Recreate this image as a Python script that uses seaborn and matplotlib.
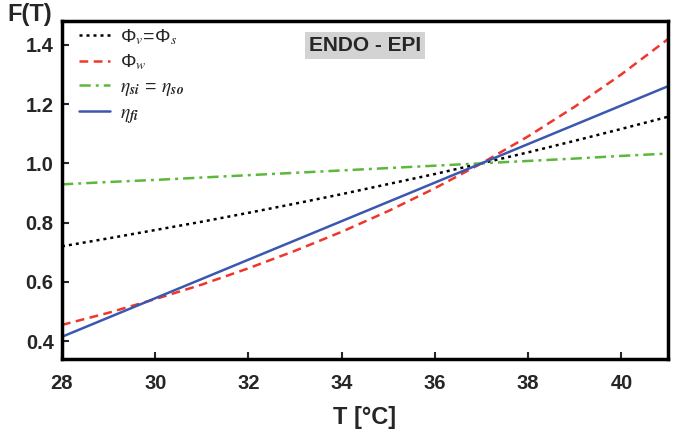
import matplotlib
matplotlib.use("Agg")
import matplotlib.pyplot as plt
import seaborn as sns
import pandas as pd

# Temperature (°C) and the scaling factors F(T) for each parameter group
temperature = [28, 29, 30, 31, 32, 33, 34, 35, 36, 37, 38, 39, 40, 41]
phi_v_s = [0.720, 0.747, 0.775, 0.803, 0.833, 0.864, 0.896, 0.930, 0.964,
           1.000, 1.037, 1.076, 1.116, 1.157]
phi_w = [0.455, 0.496, 0.542, 0.591, 0.646, 0.705, 0.769, 0.839, 0.916,
         1.000, 1.091, 1.191, 1.300, 1.419]
eta_si_so = [0.929, 0.937, 0.944, 0.952, 0.960, 0.968, 0.976, 0.984, 0.992,
             1.000, 1.008, 1.016, 1.025, 1.033]
eta_fi = [0.415, 0.480, 0.545, 0.610, 0.675, 0.740, 0.805, 0.870, 0.935,
          1.000, 1.065, 1.130, 1.195, 1.260]

x_ticks = [28, 30, 32, 34, 36, 38, 40]
y_ticks = [0.4, 0.6, 0.8, 1.0, 1.2, 1.4]

sns.set_style("white")
plt.rcParams["font.family"] = ["Liberation Sans", "DejaVu Sans"]
plt.rcParams["mathtext.fontset"] = "stix"

fig = plt.figure(figsize=(6.84, 4.33), dpi=100)
ax = fig.add_axes([62 / 684, 1 - 359 / 433, (668 - 62) / 684, (359 - 21) / 433])

series = [
    ("Φ$_v$=Φ$_s$", phi_v_s, "black", (0, (1.2, 1.6))),
    ("Φ$_w$", phi_w, "#f0362b", (0, (3.5, 2.2))),
    (r"$\eta_{\mathbfit{si}}$ = $\eta_{\mathbfit{so}}$", eta_si_so, "#5cb83a",
     (0, (4.5, 2, 1.2, 2))),
    (r"$\eta_{\mathbfit{fi}}$", eta_fi, "#3a58b0", "-"),
]
for label, vals, color, ls in series:
    df = pd.DataFrame({"T": temperature, "F": vals})
    sns.lineplot(data=df, x="T", y="F", ax=ax, color=color, linestyle=ls,
                 linewidth=1.8, label=label)

ax.set_xlim(28, 41)
ax.set_ylim(0.34, 1.48)
ax.set_xticks(x_ticks)
ax.set_yticks(y_ticks)
ax.set_yticklabels([f"{v:.1f}" for v in y_ticks])
ax.tick_params(direction="in", length=5, width=1.5, labelsize=14.5,
               top=False, right=False, bottom=True, left=True)
ax.tick_params(axis="x", pad=11)
ax.tick_params(axis="y", pad=6)
for lbl in ax.get_xticklabels() + ax.get_yticklabels():
    lbl.set_fontweight("bold")
for sp in ax.spines.values():
    sp.set_linewidth(2.5)
    sp.set_color("black")

ax.set_xlabel("T [°C]", fontsize=17, fontweight="bold", labelpad=9)
ax.set_ylabel("")
fig.text(30 / 684, 1 - 15 / 433, "F(T)", fontsize=17, fontweight="bold",
         ha="center", va="center")

ax.text(0.5, 0.955, "ENDO - EPI", transform=ax.transAxes, ha="center",
        va="top", fontsize=15, fontweight="bold",
        bbox=dict(boxstyle="square,pad=0.2", facecolor="#d3d3d3",
                  edgecolor="none"))

leg = ax.legend(loc="upper left", frameon=False, fontsize=14,
                handlelength=1.6, handletextpad=0.5, labelspacing=0.32,
                borderaxespad=0.2, borderpad=0.1, bbox_to_anchor=(0.018, 1.0))

fig.savefig("out.png", dpi=100)
